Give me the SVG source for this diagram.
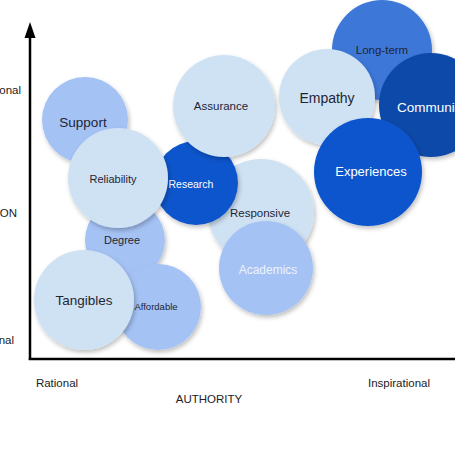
<svg xmlns="http://www.w3.org/2000/svg" width="455" height="455" viewBox="0 0 455 455">
<defs>
<filter id="sh" x="-20%" y="-20%" width="150%" height="150%">
<feDropShadow dx="1.5" dy="2.5" stdDeviation="2" flood-color="#000" flood-opacity="0.25"/>
</filter>
<style>
circle{filter:url(#sh)}
.pale{fill:#cfe2f3}
.lite{fill:#a4c2f4}
.mid{fill:#3c78d8}
.dark{fill:#1155cc}
.deep{fill:#0b48a8}
text{font-family:"Liberation Sans",Arial,sans-serif;text-anchor:middle}
.d{fill:#1f2533}
.w{fill:#ffffff}
.ax{fill:#222;font-size:11.5px}
</style>
</defs>
<rect width="455" height="455" fill="#fff"/>
<g id="axes">
<line x1="30" y1="360" x2="30" y2="36" stroke="#000" stroke-width="2.5"/>
<polygon points="30,22 24.5,38 35.5,38" fill="#000"/>
<line x1="28.8" y1="359" x2="455" y2="359" stroke="#000" stroke-width="2.5"/>
<text class="ax" x="21" y="94" style="text-anchor:end">onal</text>
<text class="ax" x="17" y="217" style="text-anchor:end">ON</text>
<text class="ax" x="14" y="344" style="text-anchor:end">nal</text>
<text class="ax" x="57" y="387">Rational</text>
<text class="ax" x="209" y="403">AUTHORITY</text>
<text class="ax" x="399" y="387">Inspirational</text>
</g>
<g id="long-term"><circle class="mid" cx="382" cy="50" r="50"/><text class="d" x="382" y="54" font-size="11.5">Long-term</text></g>
<g id="empathy"><circle class="pale" cx="327" cy="97" r="48"/><text class="d" x="327" y="103" font-size="14">Empathy</text></g>
<g id="communities"><circle class="deep" cx="431" cy="105" r="52"/><text class="w" x="397" y="112" font-size="13.5" style="text-anchor:start">Communi</text></g>
<g id="experiences"><circle class="dark" cx="368" cy="172" r="54"/><text class="w" x="371" y="176" font-size="13">Experiences</text></g>
<g id="support"><circle class="lite" cx="85" cy="120" r="43"/><text class="d" x="83" y="127" font-size="13.5">Support</text></g>
<g id="responsive"><circle class="pale" cx="261" cy="212" r="53"/><text class="d" x="260" y="217" font-size="11.5">Responsive</text></g>
<g id="research"><circle class="dark" cx="196" cy="183" r="42"/><text class="w" x="191" y="188" font-size="10.5">Research</text></g>
<g id="assurance"><circle class="pale" cx="224" cy="106" r="51"/><text class="d" x="221" y="110" font-size="11.5">Assurance</text></g>
<g id="academics"><circle class="lite" cx="266" cy="268" r="47"/><text fill="#eef3fc" x="268" y="274" font-size="12">Academics</text></g>
<g id="degree"><circle class="lite" cx="125" cy="240" r="40"/><text class="d" x="122" y="244" font-size="11">Degree</text></g>
<g id="reliability"><circle class="pale" cx="118" cy="178" r="50"/><text class="d" x="113" y="183" font-size="11">Reliability</text></g>
<g id="affordable"><circle class="lite" cx="158" cy="307" r="43"/><text class="d" x="156" y="310" font-size="9.5">Affordable</text></g>
<g id="tangibles"><circle class="pale" cx="84" cy="300" r="50"/><text class="d" x="84" y="305" font-size="13.5">Tangibles</text></g>
</svg>
